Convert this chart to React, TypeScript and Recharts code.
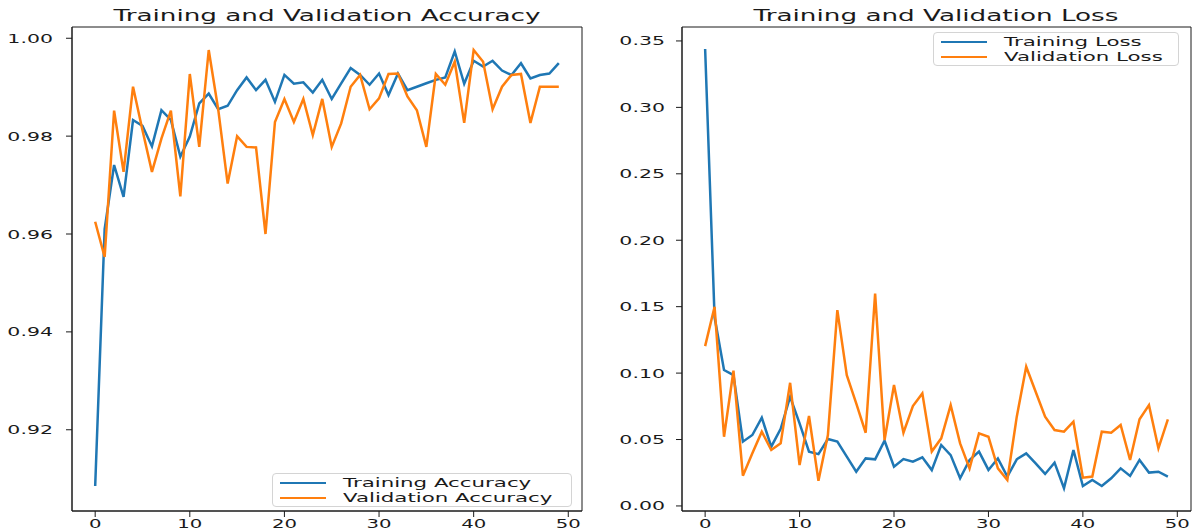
import { LineChart, Line, XAxis, YAxis, Legend, ReferenceArea } from 'recharts';

// per-epoch metrics (50 epochs)
const trainAcc = [
  0.9085, 0.961, 0.9741, 0.9676, 0.9833, 0.9821, 0.9779, 0.9853, 0.9833, 0.9758,
  0.9799, 0.9867, 0.9887, 0.9855, 0.9862, 0.9894, 0.992, 0.9894, 0.9915, 0.987,
  0.9925, 0.9907, 0.991, 0.9889, 0.9915, 0.9876, 0.9908, 0.9939, 0.9925, 0.9905,
  0.9928, 0.9884, 0.9928, 0.9894, 0.9901, 0.9908, 0.9915, 0.992, 0.9973, 0.9907,
  0.9954, 0.9942, 0.9954, 0.9934, 0.9925, 0.9949, 0.9918, 0.9925, 0.9928, 0.9949,
];
const valAcc = [
  0.9625, 0.9553, 0.9852, 0.9727, 0.9901, 0.9812, 0.9727, 0.9795, 0.9852, 0.9677,
  0.9927, 0.9778, 0.9976, 0.9855, 0.9703, 0.98, 0.9778, 0.9777, 0.96, 0.9829,
  0.9876, 0.9829, 0.9876, 0.9802, 0.9876, 0.9778, 0.9826, 0.9901, 0.9925, 0.9855,
  0.9877, 0.9927, 0.9928, 0.9881, 0.9853, 0.9778, 0.9927, 0.9905, 0.9952, 0.9827,
  0.9976, 0.9952, 0.9855, 0.9901, 0.9925, 0.9927, 0.9827, 0.9901, 0.9901, 0.9901,
];
const trainLoss = [
  0.344, 0.142, 0.1023, 0.0985, 0.0484, 0.0534, 0.0664, 0.0446, 0.058, 0.0822,
  0.0622, 0.0409, 0.039, 0.0504, 0.0484, 0.0371, 0.0258, 0.0358, 0.0351, 0.0491,
  0.0296, 0.0353, 0.0333, 0.0366, 0.027, 0.0459, 0.0383, 0.0208, 0.0346, 0.0409,
  0.0271, 0.0358, 0.0221, 0.0351, 0.0396, 0.0321, 0.0241, 0.0326, 0.0133, 0.0421,
  0.015, 0.0195, 0.015, 0.0208, 0.0283, 0.0226, 0.0346, 0.0251, 0.0258, 0.0221,
];
const valLoss = [
  0.1203, 0.1499, 0.0521, 0.1018, 0.0228, 0.0396, 0.0559, 0.0421, 0.0471, 0.0927,
  0.0308, 0.0677, 0.019, 0.0534, 0.1474, 0.0985, 0.0772, 0.0551, 0.1599, 0.0496,
  0.091, 0.0551, 0.0752, 0.0847, 0.041, 0.0509, 0.0759, 0.0471, 0.0283, 0.0546,
  0.0521, 0.0283, 0.0195, 0.0672, 0.1048, 0.086, 0.0672, 0.0571, 0.0559, 0.0634,
  0.0213, 0.0221, 0.0559, 0.0551, 0.0609, 0.0346, 0.0652, 0.0759, 0.0434, 0.0652,
];

const epochTicks = [0, 10, 20, 30, 40, 50];
const accTicks = [0.92, 0.94, 0.96, 0.98, 1.0];
const lossTicks = [0, 0.05, 0.1, 0.15, 0.2, 0.25, 0.3, 0.35];

const accRows = trainAcc.map((v, i) => ({ epoch: i, train: v, val: valAcc[i] }));
const lossRows = trainLoss.map((v, i) => ({ epoch: i, train: v, val: valLoss[i] }));

const BLUE = '#1f77b4';
const ORANGE = '#ff7f0e';
const INK = '#1a1a1a';
const FONT = '"DejaVu Sans", Verdana, sans-serif';
const SX = 1.64; // all text is drawn horizontally widened
const X_DOMAIN: [number, number] = [-2.45, 51.45];

function XTick({ x, y, payload }: any) {
  return (
    <g transform={`translate(${x},${y})`}>
      <text transform={`scale(${SX},1)`} textAnchor="middle" dy="0.71em" fontSize={12} fontFamily={FONT} fill={INK}>
        {payload.value}
      </text>
    </g>
  );
}

function YTick({ x, y, payload }: any) {
  return (
    <g transform={`translate(${x},${y})`}>
      <text transform={`scale(${SX},1)`} textAnchor="end" dy="0.36em" fontSize={12.5} fontFamily={FONT} fill={INK}>
        {Number(payload.value).toFixed(2)}
      </text>
    </g>
  );
}

function LegendBox({ payload }: any) {
  return (
    <div
      style={{
        position: 'relative',
        width: '100%',
        height: '100%',
        boxSizing: 'border-box',
        border: '1px solid #d4d4d4',
        borderRadius: 4,
        background: 'rgba(255,255,255,0.85)',
      }}
    >
      {(payload ?? []).map((item: any, i: number) => {
        const cy = 9 + i * 14.5;
        return (
          <div key={item.value}>
            <div style={{ position: 'absolute', left: 7, width: 46, top: cy - 1, height: 2, background: item.color }} />
            <span
              style={{
                position: 'absolute',
                left: 70,
                top: cy - 7.8,
                fontFamily: FONT,
                fontSize: 13,
                lineHeight: '16px',
                color: INK,
                whiteSpace: 'nowrap',
                transform: `scaleX(${SX})`,
                transformOrigin: 'left center',
              }}
            >
              {item.value}
            </span>
          </div>
        );
      })}
    </div>
  );
}

interface PanelProps {
  rows: { epoch: number; train: number; val: number }[];
  yDomain: [number, number];
  yTicks: number[];
  names: [string, string];
  yWidth: number;
  rightPad: number;
  tickGap: number;
  legend: { left: number; top: number; width: number; height: number };
}

function Panel({ rows, yDomain, yTicks, names, yWidth, rightPad, tickGap, legend }: PanelProps) {
  return (
    <LineChart width={597} height={531} data={rows} margin={{ top: 27, right: rightPad, bottom: 0, left: 0 }}>
      <XAxis
        dataKey="epoch"
        type="number"
        domain={X_DOMAIN}
        ticks={epochTicks}
        allowDataOverflow
        height={20}
        tickSize={6}
        tickMargin={2}
        tick={(p: any) => <XTick {...p} />}
        axisLine={{ stroke: INK }}
        tickLine={{ stroke: INK }}
      />
      <YAxis
        type="number"
        domain={yDomain}
        ticks={yTicks}
        allowDataOverflow
        width={yWidth}
        tickSize={6}
        tickMargin={tickGap}
        tick={(p: any) => <YTick {...p} />}
        axisLine={{ stroke: INK }}
        tickLine={{ stroke: INK }}
      />
      {/* axes frame */}
      <ReferenceArea
        x1={X_DOMAIN[0]}
        x2={X_DOMAIN[1]}
        y1={yDomain[0]}
        y2={yDomain[1]}
        fill="none"
        stroke={INK}
        strokeWidth={1}
        ifOverflow="visible"
      />
      <Line type="linear" dataKey="train" name={names[0]} stroke={BLUE} strokeWidth={2.5} dot={false} isAnimationActive={false} />
      <Line type="linear" dataKey="val" name={names[1]} stroke={ORANGE} strokeWidth={2.5} dot={false} isAnimationActive={false} />
      <Legend
        layout="horizontal"
        verticalAlign="middle"
        align="center"
        wrapperStyle={{ ...legend, position: 'absolute' }}
        content={(p: any) => <LegendBox {...p} />}
      />
    </LineChart>
  );
}

export default function App() {
  return (
    <div style={{ position: 'fixed', left: 0, top: 0, width: 1194, height: 531, background: '#fff' }}>
      <div style={{ position: 'absolute', left: 0, top: 0 }}>
        <Panel
          rows={accRows}
          yDomain={[0.9034, 1.0023]}
          yTicks={accTicks}
          names={['Training Accuracy', 'Validation Accuracy']}
          yWidth={72}
          rightPad={15}
          tickGap={13}
          legend={{ left: 272, top: 473, width: 300, height: 34 }}
        />
      </div>
      <div style={{ position: 'absolute', left: 597, top: 0 }}>
        <Panel
          rows={lossRows}
          yDomain={[-0.0038, 0.3605]}
          yTicks={lossTicks}
          names={['Training Loss', 'Validation Loss']}
          yWidth={85}
          rightPad={3}
          tickGap={11}
          legend={{ left: 336, top: 32, width: 246, height: 34 }}
        />
      </div>
      <svg width={1194} height={40} style={{ position: 'absolute', left: 0, top: 0, pointerEvents: 'none' }}>
        <text x={327} y={21.5} textAnchor="middle" transform={`translate(327,0) scale(${SX},1) translate(-327,0)`} fontSize={16} fontFamily={FONT} fill={INK}>
          Training and Validation Accuracy
        </text>
        <text x={936} y={21.5} textAnchor="middle" transform={`translate(936,0) scale(${SX},1) translate(-936,0)`} fontSize={16} fontFamily={FONT} fill={INK}>
          Training and Validation Loss
        </text>
      </svg>
    </div>
  );
}
